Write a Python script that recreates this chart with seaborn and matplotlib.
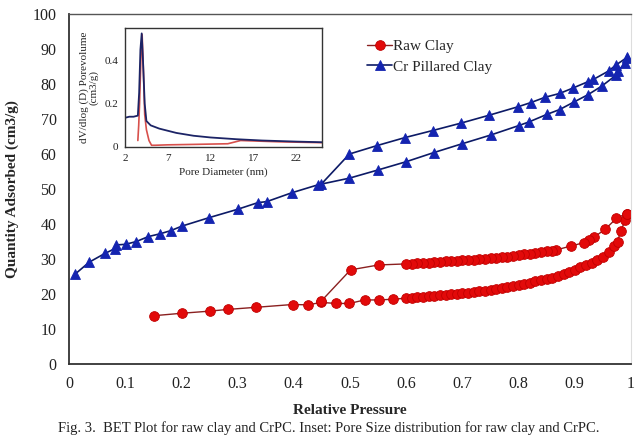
import matplotlib
matplotlib.use("Agg")
import matplotlib.pyplot as plt
import seaborn as sns
import pandas as pd

# ---- Main isotherm data (relative pressure, quantity adsorbed) ----
cr_ads_p = [0.011, 0.036, 0.064, 0.081, 0.083, 0.101, 0.120, 0.141, 0.162, 0.181, 0.201,
            0.249, 0.300, 0.336, 0.352, 0.396, 0.443, 0.499, 0.549, 0.600, 0.649, 0.699,
            0.750, 0.800, 0.819, 0.850, 0.873, 0.899, 0.923, 0.948, 0.974, 0.977, 0.989, 0.993]
cr_ads_v = [25.7, 29.1, 31.6, 32.9, 34.0, 34.2, 35.0, 36.4, 37.2, 38.1, 39.4,
            41.8, 44.2, 46.1, 46.4, 48.9, 51.2, 53.1, 55.4, 57.8, 60.4, 62.9,
            65.4, 68.1, 69.2, 71.3, 72.7, 74.9, 76.9, 79.4, 82.6, 83.7, 85.9, 87.5]
cr_des_p = [0.993, 0.973, 0.960, 0.933, 0.924, 0.896, 0.873, 0.847, 0.822, 0.799, 0.748,
            0.697, 0.647, 0.598, 0.548, 0.499, 0.449]
cr_des_v = [87.6, 85.4, 83.7, 81.3, 80.7, 78.8, 77.3, 76.2, 74.7, 73.5, 71.1,
            68.8, 66.7, 64.7, 62.4, 60.0, 51.4]

raw_ads_p = [0.151, 0.201, 0.250, 0.283, 0.333, 0.398, 0.425, 0.449, 0.475, 0.499, 0.526,
             0.551, 0.576, 0.60, 0.61, 0.62, 0.63, 0.64, 0.65, 0.66, 0.67, 0.68, 0.69,
             0.70, 0.71, 0.72, 0.73, 0.74, 0.75, 0.76, 0.77, 0.78, 0.79, 0.80, 0.81,
             0.82, 0.83, 0.84, 0.85, 0.86, 0.87, 0.88, 0.89, 0.90, 0.91, 0.92, 0.93,
             0.94, 0.95, 0.96, 0.97, 0.976, 0.982, 0.990, 0.992]
raw_ads_v = [13.8, 14.5, 15.1, 15.6, 16.2, 17.0, 16.9, 17.6, 17.3, 17.3, 18.3,
             18.3, 18.5, 18.8, 19.0, 19.1, 19.2, 19.3, 19.5, 19.6, 19.7, 19.9, 20.0,
             20.2, 20.4, 20.6, 20.8, 21.0, 21.2, 21.4, 21.7, 22.0, 22.3, 22.6, 22.9,
             23.2, 23.6, 23.9, 24.3, 24.7, 25.2, 25.7, 26.3, 26.9, 27.6, 28.3, 29.0,
             29.8, 30.6, 32.0, 33.8, 35.0, 38.1, 41.1, 43.0]
raw_des_p = [0.992, 0.974, 0.954, 0.934, 0.925, 0.917, 0.893, 0.867, 0.86, 0.85, 0.84,
             0.83, 0.82, 0.81, 0.80, 0.79, 0.78, 0.77, 0.76, 0.75, 0.74, 0.73, 0.72,
             0.71, 0.70, 0.69, 0.68, 0.67, 0.66, 0.65, 0.64, 0.63, 0.62, 0.61, 0.60,
             0.551, 0.501, 0.449]
raw_des_v = [43.0, 41.6, 38.5, 36.2, 35.4, 34.7, 33.7, 32.6, 32.4, 32.2, 32.0,
             31.7, 31.5, 31.3, 31.1, 30.9, 30.7, 30.5, 30.3, 30.2, 30.0, 29.9, 29.8,
             29.7, 29.6, 29.5, 29.4, 29.3, 29.2, 29.1, 29.0, 28.9, 28.8, 28.7, 28.6,
             28.3, 26.9, 18.0]

# ---- Inset pore size distribution ----
raw_psd_d = [3.5, 3.6, 3.7, 3.85, 4.0, 4.15, 4.3, 4.5, 4.8, 5.1, 5.5, 7, 10, 14, 15.5, 17, 20, 25]
raw_psd_v = [0.03, 0.10, 0.20, 0.40, 0.52, 0.35, 0.15, 0.08, 0.03, 0.008, 0.008, 0.01, 0.012,
             0.015, 0.03, 0.028, 0.024, 0.02]
cr_psd_d = [2, 2.5, 3, 3.5, 3.65, 3.8, 3.95, 4.1, 4.3, 4.5, 5, 6, 7, 8, 10, 12, 15, 18, 22, 25]
cr_psd_v = [0.135, 0.14, 0.14, 0.145, 0.25, 0.45, 0.525, 0.40, 0.20, 0.12, 0.10, 0.085, 0.075,
            0.065, 0.052, 0.044, 0.036, 0.03, 0.025, 0.022]

x_ticks = [0, 0.1, 0.2, 0.3, 0.4, 0.5, 0.6, 0.7, 0.8, 0.9, 1.0]
x_tick_labels = ["0", "0.1", "0.2", "0.3", "0.4", "0.5", "0.6", "0.7", "0.8", "0.9", "1"]
y_ticks = [0, 10, 20, 30, 40, 50, 60, 70, 80, 90, 100]
inset_x_ticks = [2, 7, 12, 17, 22]
inset_y_ticks = [0, 0.2, 0.4]
inset_y_labels = ["0", "0.2", "0.4"]

sns.set_style("white")
plt.rcParams['font.family'] = ['Liberation Serif', 'DejaVu Serif']

fig = plt.figure(figsize=(6.4, 4.37), dpi=100)
ax = fig.add_axes([69/640, 73/437, 562/640, 350/437])

raw_df = pd.DataFrame({"p": raw_ads_p + raw_des_p, "v": raw_ads_v + raw_des_v})
cr_df = pd.DataFrame({"p": cr_ads_p + cr_des_p, "v": cr_ads_v + cr_des_v})

sns.lineplot(data=raw_df, x="p", y="v", sort=False, estimator=None, ax=ax,
             color="#8a2020", lw=1.0, marker="o", markersize=7,
             markerfacecolor="#e20a0a", markeredgecolor="#c00000", markeredgewidth=0.6,
             label="Raw Clay")
sns.lineplot(data=cr_df, x="p", y="v", sort=False, estimator=None, ax=ax,
             color="#0c1a66", lw=1.2, marker="^", markersize=6.5,
             markerfacecolor="#1424b0", markeredgecolor="#1424b0", markeredgewidth=0.6,
             label="Cr Pillared Clay")

ax.set_xlim(0, 1.0)
ax.set_ylim(0, 100)
ax.set_xticks(x_ticks)
ax.set_xticklabels(x_tick_labels)
ax.set_yticks(y_ticks)
ax.tick_params(axis="both", length=0, labelsize=11.5, pad=9, colors="#222222")
ax.set_xlabel("Relative Pressure", fontsize=11, fontweight="bold", labelpad=8)
ax.set_ylabel("Quantity Adsorbed (cm3/g)", fontsize=11, fontweight="bold", labelpad=10)
for s in ["left", "bottom"]:
    ax.spines[s].set_color("#333333")
    ax.spines[s].set_linewidth(1.3)
ax.spines["top"].set_color("#555555")
ax.spines["top"].set_linewidth(1.0)
ax.spines["right"].set_color("#dddddd")
ax.spines["right"].set_linewidth(0.8)

leg = ax.legend(loc="upper left", bbox_to_anchor=(0.52, 0.945), frameon=False,
                fontsize=11, handlelength=1.6, handletextpad=0.1, labelspacing=0.45,
                borderaxespad=0)

# ---- inset ----
axi = fig.add_axes([125/640, (437-147)/437, 197/640, 119/437])
raw_psd_df = pd.DataFrame({"d": raw_psd_d, "v": raw_psd_v})
cr_psd_df = pd.DataFrame({"d": cr_psd_d, "v": cr_psd_v})
sns.lineplot(data=raw_psd_df, x="d", y="v", sort=False, estimator=None, ax=axi,
             color="#d8504c", lw=1.2)
sns.lineplot(data=cr_psd_df, x="d", y="v", sort=False, estimator=None, ax=axi,
             color="#1c2466", lw=1.3)
axi.set_xlim(2, 25)
axi.set_ylim(0, 0.55)
axi.set_xticks(inset_x_ticks)
axi.set_yticks(inset_y_ticks)
axi.set_yticklabels(inset_y_labels)
axi.tick_params(axis="both", length=0, labelsize=8, pad=5, colors="#222222")
axi.set_xlabel("Pore Diameter (nm)", fontsize=8, labelpad=3)
axi.set_ylabel("dV/dlog (D) Porevolume\n(cm3/g)", fontsize=8, labelpad=4, linespacing=1.0)
for s in axi.spines.values():
    s.set_color("#333333")
    s.set_linewidth(1.0)

fig.text(0.09, 9/437, "Fig. 3.  BET Plot for raw clay and CrPC. Inset: Pore Size distribution for raw clay and CrPC.",
         fontsize=10.5, va="center", ha="left", color="#222222")

fig.savefig("out.png", dpi=100)
